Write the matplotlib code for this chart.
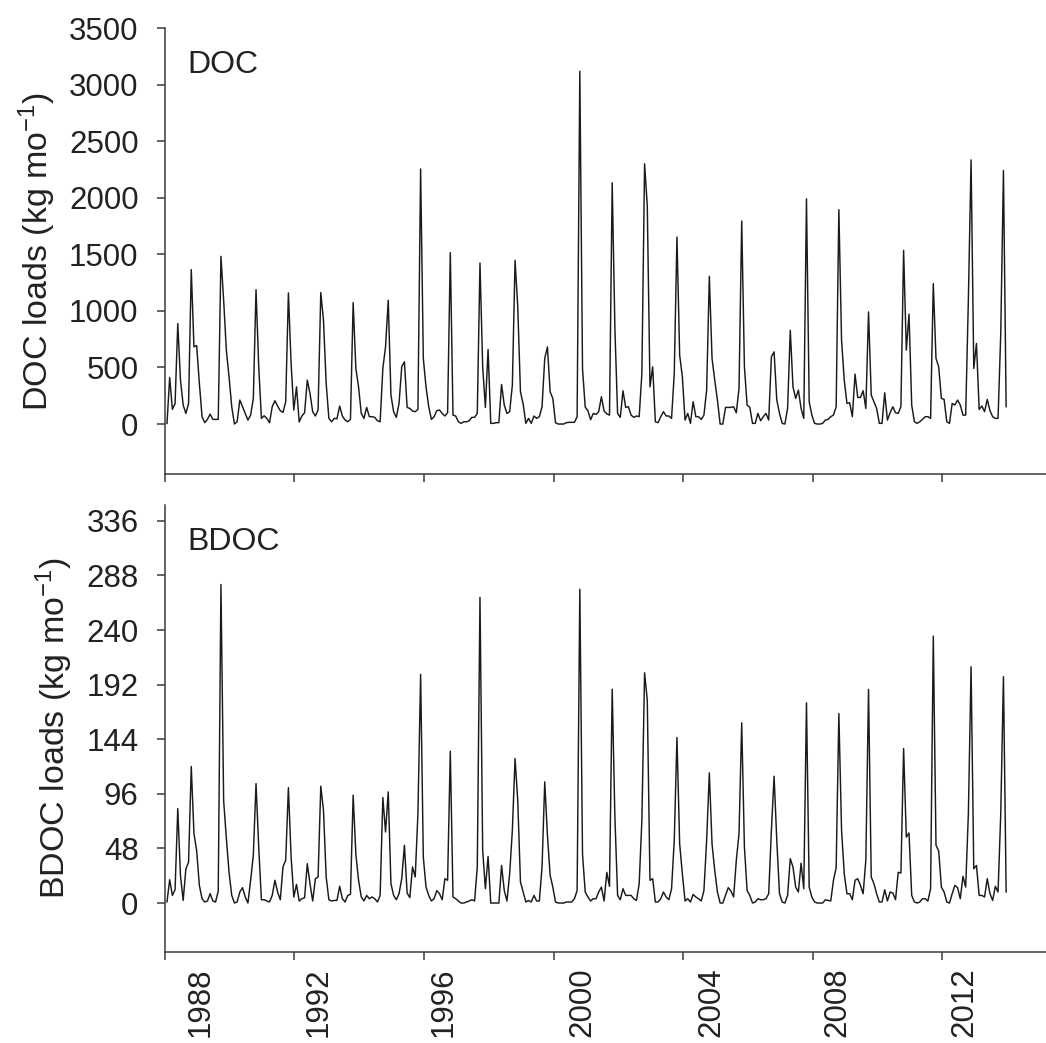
#!/usr/bin/env python3
"""
Monthly DOC and BDOC loads, 1988-2014, two stacked panels
"""

import numpy as np
import matplotlib
matplotlib.use("Agg")
import matplotlib.pyplot as plt
from matplotlib.transforms import ScaledTranslation

plt.rcParams['font.family'] = ['Liberation Sans', 'DejaVu Sans']
plt.rcParams['mathtext.fontset'] = 'custom'
plt.rcParams['mathtext.rm'] = 'Liberation Sans'
plt.rcParams['mathtext.it'] = 'Liberation Sans:italic'

# first month of the record, as a decimal year
START_YEAR = 1988.0

# monthly DOC loads (kg/mo), one row per 12 months
doc_loads = [
    5, 412, 130, 180, 888, 390, 168, 94, 180, 1365, 682, 694,
    360, 65, 12, 41, 88, 41, 41, 41, 1482, 1094, 653, 418,
    153, 0, 20, 212, 153, 94, 35, 80, 226, 1188, 506, 50,
    73, 50, 12, 153, 206, 159, 118, 103, 197, 1159, 535, 124,
    329, 18, 71, 100, 388, 271, 109, 71, 124, 1162, 918, 359,
    50, 20, 50, 47, 159, 71, 35, 20, 41, 1073, 491, 329,
    94, 50, 147, 65, 65, 59, 29, 20, 491, 682, 1094, 256,
    109, 59, 182, 506, 550, 147, 138, 115, 109, 130, 2255, 580,
    329, 153, 41, 65, 118, 124, 94, 71, 100, 1515, 79, 71,
    20, 6, 20, 20, 29, 59, 59, 94, 1423, 506, 147, 659,
    6, 6, 12, 12, 350, 168, 94, 109, 344, 1447, 1035, 285,
    176, 6, 50, 6, 71, 50, 65, 153, 580, 682, 285, 226,
    12, 0, 0, 0, 12, 15, 15, 15, 65, 3118, 490, 150,
    118, 38, 94, 85, 109, 241, 115, 90, 79, 2132, 844, 94,
    59, 294, 147, 153, 79, 59, 71, 65, 447, 2300, 1932, 329,
    506, 20, 12, 65, 109, 71, 71, 50, 447, 1653, 609, 418,
    35, 94, 6, 197, 65, 65, 41, 79, 300, 1306, 580, 388,
    212, 0, 0, 147, 147, 147, 153, 100, 315, 1794, 506, 168,
    147, 6, 6, 94, 29, 65, 94, 35, 594, 638, 212, 94,
    6, 0, 138, 829, 329, 226, 300, 138, 50, 1991, 197, 79,
    6, 0, 0, 6, 35, 41, 65, 79, 153, 1894, 741, 388,
    182, 188, 65, 441, 235, 235, 294, 138, 991, 256, 197, 138,
    6, 6, 276, 35, 100, 153, 100, 94, 153, 1535, 653, 971,
    168, 20, 6, 20, 41, 65, 65, 50, 1241, 580, 506, 226,
    218, 20, 6, 182, 168, 212, 168, 79, 79, 1100, 2335, 491,
    712, 129, 159, 109, 218, 118, 65, 50, 50, 800, 2241, 153,
]

# monthly BDOC loads (kg/mo)
bdoc_loads = [
    1, 20.5, 6.7, 11.7, 83, 24, 2.3, 30, 36, 120, 61, 46,
    15.5, 3.8, 0.9, 1.8, 8.2, 1.8, 0.9, 10.6, 280, 90, 57, 27,
    6.7, 0, 0.9, 9.7, 13.5, 5.3, 0, 20, 42, 105, 49, 2.9,
    2.9, 1.8, 0.9, 6.7, 20, 9.7, 2.9, 32, 37.6, 101.5, 40.5, 5.3,
    16.4, 1.8, 3.8, 4.7, 34.6, 17, 1.8, 21.4, 22.9, 102.7, 81.6, 22.9,
    2.9, 1.8, 2.3, 2.3, 14.7, 3.8, 0.9, 6.7, 7.6, 94.8, 43, 20,
    5.3, 1.8, 6.7, 3.8, 5.3, 3.8, 0.9, 6.7, 92.7, 62.5, 97.7, 17,
    6.7, 2.9, 8.2, 21.4, 50.8, 8.8, 4.7, 31.7, 22.9, 78.6, 201, 40.5,
    14, 6.7, 1.8, 3.8, 11, 8.2, 2.9, 21.4, 20, 133.5, 5.3, 3.8,
    1.8, 0, 0, 0.9, 1.8, 2.9, 1.8, 31.7, 268.7, 46.4, 12.6, 41,
    0, 0, 0, 0, 33, 11, 1.8, 25.8, 64, 127, 90, 18.5,
    9.7, 0.9, 2.3, 0.9, 6.7, 1.8, 1.8, 31.7, 106.5, 59.6, 24.4, 14,
    0.9, 0, 0, 0, 0.9, 0.9, 0.9, 3.8, 11, 275.8, 43, 9.7,
    5.3, 1.8, 3.8, 3.8, 9.7, 14, 1.8, 27, 14.7, 188, 75.7, 6.7,
    2.9, 12.6, 6.7, 6.7, 6.7, 3.8, 2.3, 17, 72.8, 202.4, 178.4, 20,
    21.4, 0.9, 0.9, 3.8, 9.7, 5.3, 2.9, 12.6, 55, 145.5, 52, 25.8,
    1.8, 3.8, 0.9, 7.6, 5.3, 3.8, 1.8, 11, 55, 114.4, 52, 28.7,
    9.7, 0, 0, 6.7, 13.5, 10.6, 5.3, 37.6, 61, 158.4, 49.3, 11,
    6.7, 0, 0.9, 3.8, 2.9, 2.9, 3.8, 8.2, 64, 111.5, 55, 8.2,
    0.9, 0, 6.7, 39, 31.7, 14, 9.7, 35, 12.6, 176, 14, 5.3,
    0.9, 0, 0, 0, 2.9, 2.3, 1.8, 20, 31, 166.6, 64, 25.8,
    8.2, 8.2, 2.9, 20, 21.4, 15.5, 8.2, 37.6, 187.8, 22.9, 17, 8.2,
    0.9, 0.9, 11.7, 1.8, 9.7, 8.8, 2.9, 27, 26.4, 135.8, 58, 61.6,
    6.7, 0.9, 0, 0.9, 3.8, 3.8, 1.8, 12.6, 234.7, 50.8, 45.8, 14,
    9.7, 0.9, 0, 8.2, 15.5, 13.5, 3.8, 23.5, 14, 78.6, 207.7, 30.2,
    33, 6.7, 6.7, 5.3, 21.4, 8.2, 2.3, 14.7, 9.7, 78.6, 199, 9.7,
]

year_ticks = [1988, 1992, 1996, 2000, 2004, 2008, 2012]
doc_ticks = [0, 500, 1000, 1500, 2000, 2500, 3000, 3500]
bdoc_ticks = [0, 48, 96, 144, 192, 240, 288, 336]

TICK_FS = 22.5
LABEL_FS = 24.5
NAME_FS = 23
TEXT_COLOR = '#222222'
LINE_COLOR = '#1a1a1a'
AXIS_COLOR = '#3a3a3a'


def style_axis(ax):
    """Only left and bottom spines, outward ticks"""
    for side in ('top', 'right'):
        ax.spines[side].set_visible(False)
    for side in ('left', 'bottom'):
        ax.spines[side].set_color(AXIS_COLOR)
        ax.spines[side].set_linewidth(1.1)
    ax.tick_params(axis='both', direction='out', length=6, width=1.1,
                   color=AXIS_COLOR, labelsize=TICK_FS, labelcolor=TEXT_COLOR)
    ax.tick_params(axis='y', pad=13)
    ax.tick_params(axis='x', pad=5)


def draw_panel(ax, months, values, ticks, ylim, name, ylabel):
    ax.plot(months, values, color=LINE_COLOR, lw=1.05)
    ax.set_xlim(1988.0, 2015.21)
    ax.set_ylim(*ylim)
    ax.set_yticks(ticks)
    ax.set_xticks(year_ticks)
    ax.set_ylabel(ylabel, fontsize=LABEL_FS, color=TEXT_COLOR, labelpad=8)
    ax.text(0.025, 0.9, name, transform=ax.transAxes, fontsize=NAME_FS,
            va='baseline', ha='left', color=TEXT_COLOR)
    style_axis(ax)


def main():
    fig = plt.figure(figsize=(10.46, 10.43), dpi=100)
    fig.patch.set_facecolor('white')

    months = START_YEAR + (np.arange(len(doc_loads)) + 0.75) / 12.0

    ax_doc = fig.add_axes([0.1577, 0.5455, 0.8423, 0.4276])
    ax_bdoc = fig.add_axes([0.1577, 0.0873, 0.8423, 0.4286])

    draw_panel(ax_doc, months, doc_loads, doc_ticks, (-442, 3500), 'DOC',
               r'DOC loads (kg mo$^{\mathrm{-1}}$)')
    draw_panel(ax_bdoc, months, bdoc_loads, bdoc_ticks, (-43, 350), 'BDOC',
               r'BDOC loads (kg mo$^{\mathrm{-1}}$)')

    ax_doc.tick_params(axis='x', labelbottom=False)

    # year labels sit a little to the right of their ticks
    ax_bdoc.set_xticklabels([str(y) for y in year_ticks], rotation=90)
    shifts = [36, 24, 20, 29, 28, 25, 22]
    for lab, dx in zip(ax_bdoc.get_xticklabels(), shifts):
        lab.set_transform(lab.get_transform() +
                          ScaledTranslation(dx / 100.0, 0, fig.dpi_scale_trans))

    fig.savefig('out.png', dpi=100, facecolor='white')


if __name__ == "__main__":
    main()
